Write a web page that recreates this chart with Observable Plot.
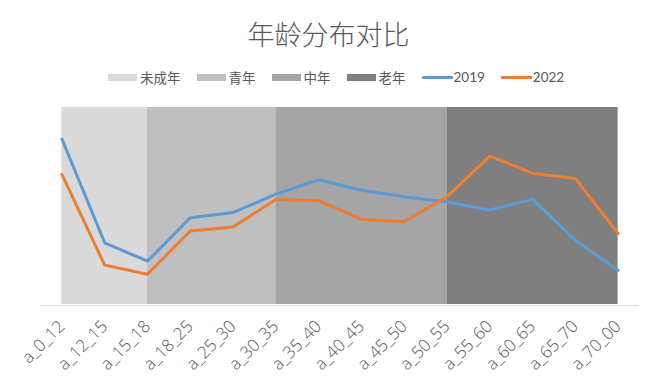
<!DOCTYPE html>
<html>
<head>
<meta charset="utf-8">
<script src="https://cdn.jsdelivr.net/npm/d3@7"></script>
<script src="https://cdn.jsdelivr.net/npm/@observablehq/plot@0.6"></script>
<style>
  html, body { margin: 0; padding: 0; background: #fff; }
  #wrap { position: relative; width: 654px; height: 391px; overflow: hidden; }
  #head { position: relative; width: 654px; height: 95px; }
  #title { position: absolute; left: 0; width: 657px; top: 16px; text-align: center;
           font-family: "Noto Sans CJK SC", sans-serif; font-weight: 300; font-size: 27px;
           line-height: 36px; color: #595959; }
  #legend { position: absolute; left: 108px; top: 68px; height: 18px; display: flex; align-items: center;
            font-family: "Noto Sans CJK SC", sans-serif; font-size: 13.5px; color: #595959; }
  .item { display: flex; align-items: center; margin-right: 16px; }
  .sw { width: 29px; height: 7px; margin-right: 3px; }
  .ln { width: 31px; height: 3px; margin-right: 1px; border-radius: 1px; }
  #chart svg { display: block; }
</style>
</head>
<body>
<div id="wrap">
  <div id="head">
    <div id="title"></div>
    <div id="legend"></div>
  </div>
  <div id="chart"></div>
</div>
<script>
const titleText = "年龄分布对比";
const categories = ["a_0_12","a_12_15","a_15_18","a_18_25","a_25_30","a_30_35","a_35_40","a_40_45","a_45_50","a_50_55","a_55_60","a_60_65","a_65_70","a_70_00"];
const seriesNames = ["2019", "2022"];
const seriesColors = ["#5b9bd5", "#ed7d31"];
const values2019 = [12.6, 4.7, 3.3, 6.6, 7.0, 8.4, 9.5, 8.7, 8.2, 7.8, 7.2, 8.0, 4.9, 2.6];
const values2022 = [9.9, 3.0, 2.3, 5.6, 5.9, 8.0, 7.9, 6.5, 6.3, 8.2, 11.3, 10.0, 9.6, 5.4];
const bandNames = ["未成年", "青年", "中年", "老年"];
const bandStart = ["a_0_12", "a_15_18", "a_30_35", "a_50_55"];
const bandEnd = ["a_15_18", "a_30_35", "a_50_55", "a_70_00"];
const bandColors = ["#d9d9d9", "#bfbfbf", "#a5a5a5", "#7f7f7f"];
const yMax = 15;

document.getElementById("title").textContent = titleText;

// legend
const legend = document.getElementById("legend");
const legendItems = [
  ...bandNames.map((n, i) => ({name: n, color: bandColors[i], kind: "sw"})),
  ...seriesNames.map((n, i) => ({name: n, color: seriesColors[i], kind: "ln"}))
];
legendItems.forEach(it => {
  const d = document.createElement("div");
  d.className = "item";
  const s = document.createElement("div");
  s.className = it.kind;
  s.style.background = it.color;
  const t = document.createElement("span");
  t.textContent = it.name;
  if (it.kind === "ln") t.style.fontFamily = "Lato, sans-serif";
  d.appendChild(s); d.appendChild(t);
  legend.appendChild(d);
});

// band rows
const bandRows = [];
bandNames.forEach((b, i) => {
  bandRows.push({cat: bandStart[i], top: yMax, band: b});
  bandRows.push({cat: bandEnd[i], top: yMax, band: b});
});
const lineRows = [];
categories.forEach((c, i) => {
  lineRows.push({cat: c, value: values2019[i], series: seriesNames[0]});
  lineRows.push({cat: c, value: values2022[i], series: seriesNames[1]});
});

const chart = Plot.plot({
  width: 654,
  height: 296,
  marginTop: 12,
  marginBottom: 87,
  marginLeft: 40,
  marginRight: 15,
  style: {fontFamily: "'Open Sans', sans-serif", fontSize: "17px", color: "#595959", background: "transparent"},
  x: {type: "point", domain: categories, padding: 0.5, round: false, label: null},
  y: {domain: [0, yMax], axis: null},
  color: {domain: [...bandNames, ...seriesNames], range: [...bandColors, ...seriesColors]},
  marks: [
    Plot.areaY(bandRows, {x: "cat", y1: 0, y2: "top", z: "band", fill: "band", fillOpacity: 1}),
    Plot.ruleY([0], {stroke: "#d9d9d9", strokeWidth: 1, dy: 1}),
    Plot.lineY(lineRows, {x: "cat", y: "value", z: "series", stroke: "series", strokeWidth: 3, strokeLinejoin: "round", strokeLinecap: "round"}),
    Plot.axisX({tickRotate: -45, tickSize: 0, tickPadding: 19, label: null, fontSize: 17, fontWeight: 300, fill: "#595959"})
  ]
});
document.getElementById("chart").appendChild(chart);
</script>
</body>
</html>
